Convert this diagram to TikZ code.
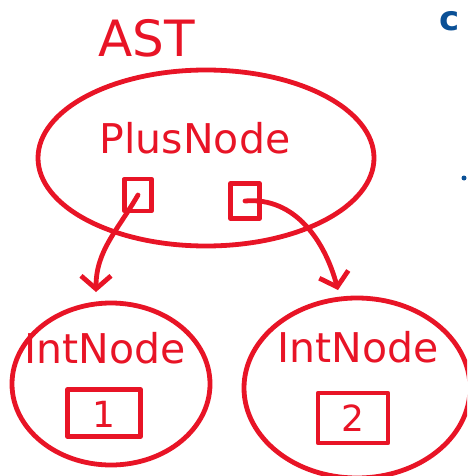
\documentclass[tikz,border=0pt]{standalone}
\usepackage{fontspec}
\setmainfont{DejaVu Sans}
\usetikzlibrary{shapes.geometric,arrows.meta}
\definecolor{inkred}{RGB}{232,20,38}
\definecolor{inkblue}{RGB}{10,80,150}
\tikzset{
  ink/.style={draw=inkred, line width=4.8pt, line cap=round, line join=round},
  blob/.style={ink, ellipse, inner sep=0pt},
  slot/.style={ink, rectangle, inner sep=0pt},
  label/.style={text=inkred, inner sep=0pt, font=\fontsize{41}{41}\selectfont},
  pointer/.style={ink, -{Straight Barb[length=13pt,width=30pt,line width=4.8pt]}}
}
\begin{document}
\begin{tikzpicture}[x=1pt,y=-1pt]
  \useasboundingbox (0,0) rectangle (467,476);
  \clip (0,0) rectangle (467,476);
  % heading
  \node[label, font=\fontsize{50}{50}\selectfont] (ast) at (147,38) {AST};
  % root node with its two child slots
  \node[blob, minimum width=336pt, minimum height=176pt] (plus) at (206,158) {};
  \node[label] (plustext) at (195,138) {PlusNode};
  \node[slot, minimum width=27pt, minimum height=32pt] (lslot) at (138,195) {};
  \node[slot, minimum width=29pt, minimum height=35pt] (rslot) at (245,201) {};
  % child nodes
  \node[blob, minimum width=198pt, minimum height=162pt] (left) at (111,384) {};
  \node[label] (lefttext) at (105,348) {IntNode};
  \node[slot, minimum width=73pt, minimum height=47pt] (lval) at (104,413) {};
  \node[text=inkred, font=\fontsize{36}{36}\selectfont] (lvaltext) at (104,414) {1};
  \node[blob, minimum width=226pt, minimum height=180pt] (right) at (357,388) {};
  \node[label] (righttext) at (358,347) {IntNode};
  \node[slot, minimum width=70pt, minimum height=50pt] (rval) at (353,418) {};
  \node[text=inkred, font=\fontsize{36}{36}\selectfont] (rvaltext) at (353,418) {2};
  % arrow ends just above the child nodes
  \coordinate (ltip) at (96,292);
  \coordinate (rtip) at (338,290);
  \draw[pointer] (lslot.center) to[out=240,in=90] (ltip);
  \draw[pointer] (rslot.center) to[out=5,in=105] (rtip);
  % blue marks at the right edge
  \node[text=inkblue, font=\fontsize{34}{34}\selectfont\bfseries, inner sep=0pt] (cmark) at (450,21) {c};
  \fill[inkblue] (464,178) circle (2.5pt) coordinate (dot);
\end{tikzpicture}
\end{document}
